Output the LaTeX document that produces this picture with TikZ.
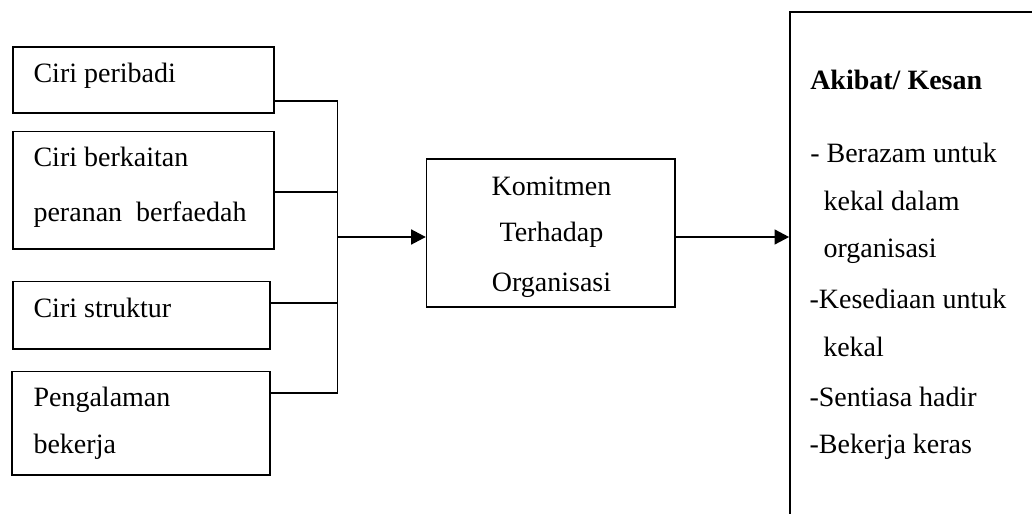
\documentclass[tikz,border=0pt]{standalone}
\usepackage{fontspec}
\setmainfont{Liberation Serif}
\usetikzlibrary{arrows.meta}
\begin{document}
\begin{tikzpicture}[x=0.75pt,y=-0.75pt,
  box/.style={draw, line width=1.2pt, inner sep=0pt},
  wire/.style={line width=1.3pt},
  flow/.style={line width=1.9pt, -{Triangle[length=11pt,width=11pt]}},
  txt/.style={font=\fontsize{21}{25}\selectfont, inner sep=0pt, anchor=base west},
  ctxt/.style={font=\fontsize{21}{25}\selectfont, inner sep=0pt, anchor=base}]
\useasboundingbox (0,0) rectangle (1032,514);
\clip (0,0) rectangle (1032,514);

% factor boxes
\node[box, minimum width=195.75pt, minimum height=49.7pt] (b1) at (143.5,79.9) {};
\node[box, minimum width=195.75pt, minimum height=88pt]   (b2) at (143.5,190.3) {};
\node[box, minimum width=192.75pt, minimum height=50.5pt] (b3) at (141.5,315.3) {};
\node[box, minimum width=193.5pt,  minimum height=77.5pt] (b4) at (141,423.3) {};

% central box
\node[box, minimum width=186.2pt, minimum height=111pt] (mid) at (550.8,233) {};

% outcome box (runs off the page on the right and bottom)
\node[box, minimum width=232.5pt, minimum height=440.8pt] (res) at (945,306) {};

% texts of the factor boxes
\node[txt] (t1)  at (33.3,82.3)  {Ciri peribadi};
\node[txt] (t2a) at (33.3,166.7) {Ciri berkaitan};
\node[txt] (t2b) at (33.3,221.7) {peranan\ \ berfaedah};
\node[txt] (t3)  at (33.3,317.7) {Ciri struktur};
\node[txt] (t4a) at (33.3,406.7) {Pengalaman};
\node[txt] (t4b) at (33.3,453.3) {bekerja};

% texts of the central box
\node[ctxt] (m1) at (551.5,195)   {Komitmen};
\node[ctxt] (m2) at (551.5,241.7) {Terhadap};
\node[ctxt] (m3) at (551.5,291.7) {Organisasi};

% texts of the outcome box
\node[txt, font=\fontsize{21}{25}\selectfont\bfseries] (r0) at (810,89.3) {Akibat/ Kesan};
\node[txt] (r1) at (810,162.7)   {- Berazam untuk};
\node[txt] (r2) at (823.3,210)   {kekal dalam};
\node[txt] (r3) at (823.3,257.5) {organisasi};
\node[txt] (r4) at (809.3,308.3) {-Kesediaan untuk};
\node[txt] (r5) at (823,356.7)   {kekal};
\node[txt] (r6) at (809.3,406)   {-Sentiasa hadir};
\node[txt] (r7) at (809.3,453.3) {-Bekerja keras};

% junction points on the collecting bus
\coordinate (j1) at (337.5,101);
\coordinate (j2) at (337.5,191.7);
\coordinate (j3) at (337.5,303.3);
\coordinate (j4) at (337.5,393.3);
\coordinate (jm) at (337.5,237);

% connectors
\draw[wire] (b1.east |- j1) -- (j1) -- (j4) -- (b4.east |- j4);
\draw[wire] (b2.east |- j2) -- (j2);
\draw[wire] (b3.east |- j3) -- (j3);
\draw[flow] (jm) -- (mid.west |- jm);
\draw[flow] (mid.east |- jm) -- (res.west |- jm);
\end{tikzpicture}
\end{document}
